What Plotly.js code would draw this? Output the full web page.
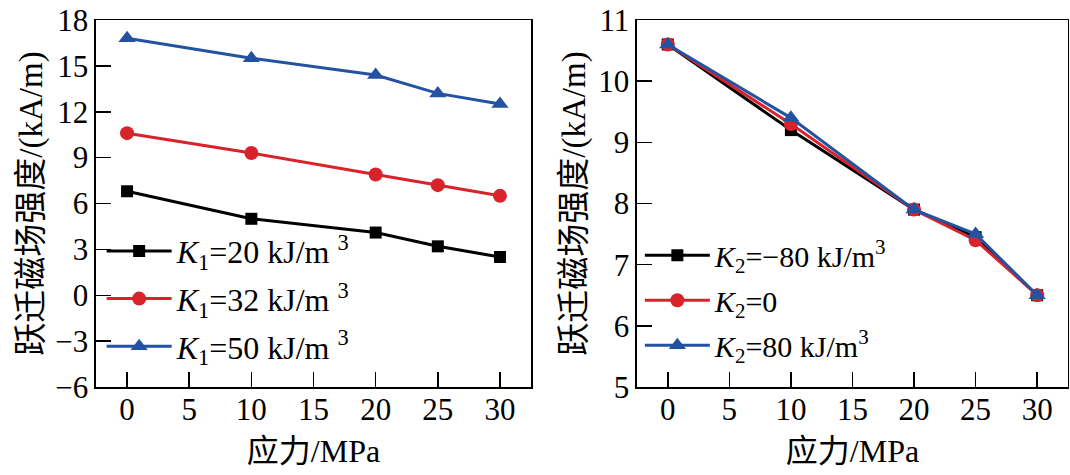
<!DOCTYPE html>
<html>
<head>
<meta charset="utf-8">
<script src="https://cdn.plot.ly/plotly-3.0.1.min.js"></script>
<style>html,body{margin:0;padding:0;background:#fff}#chart{width:1070px;height:475px}</style>
</head>
<body>
<div id="chart"></div>
<script>
const stress = [0, 10, 20, 25, 30];
const k1_20 = [6.8, 5.0, 4.1, 3.2, 2.5];
const k1_32 = [10.6, 9.3, 7.9, 7.2, 6.5];
const k1_50 = [16.8, 15.5, 14.4, 13.2, 12.5];
const k2_m80 = [10.6, 9.2, 7.9, 7.45, 6.5];
const k2_0 = [10.6, 9.3, 7.9, 7.4, 6.5];
const k2_80 = [10.6, 9.4, 7.9, 7.5, 6.5];
const leftNames = ['<i>K</i><sub>1</sub>=20 kJ/m <sup>3</sup>', '<i>K</i><sub>1</sub>=32 kJ/m <sup>3</sup>', '<i>K</i><sub>1</sub>=50 kJ/m <sup>3</sup>'];
const rightNames = ['<i>K</i><sub>2</sub>=\u221280 kJ/m<sup>3</sup>', '<i>K</i><sub>2</sub>=0', '<i>K</i><sub>2</sub>=80 kJ/m<sup>3</sup>'];
const xTicks = [0, 5, 10, 15, 20, 25, 30];

const BLACK = '#000000', RED = '#d8232b', BLUE = '#2352a3';
const FONT = 'Liberation Serif';
const TFONT = 'Liberation Serif, Noto Sans CJK SC';

function tr(y, name, color, symbol, size, xa, ya, leg, grp) {
  return {
    x: stress, y: y, name: name, type: 'scatter', mode: 'lines+markers',
    xaxis: xa, yaxis: ya, legend: leg, legendgroup: grp,
    line: {color: color, width: 3},
    marker: {color: color, symbol: symbol, size: size}
  };
}

const data = [
  tr(k1_20, leftNames[0], BLACK, 'square', 12, 'x', 'y', 'legend', 'a'),
  tr(k1_32, leftNames[1], RED, 'circle', 14, 'x', 'y', 'legend', 'b'),
  tr(k1_50, leftNames[2], BLUE, 'triangle-up', 15, 'x', 'y', 'legend', 'c'),
  tr(k2_m80, rightNames[0], BLACK, 'square', 12, 'x2', 'y2', 'legend2', 'd'),
  tr(k2_0, rightNames[1], RED, 'circle', 14, 'x2', 'y2', 'legend2', 'e'),
  tr(k2_80, rightNames[2], BLUE, 'triangle-up', 15, 'x2', 'y2', 'legend2', 'f')
];

function xax(domain, anchor) {
  return {
    domain: domain, anchor: anchor, range: [-2.5, 32.5], tickvals: xTicks,
    ticks: 'inside', ticklen: 15, tickwidth: 1.5, tickcolor: '#000',
    ticklabelstandoff: -6,
    showline: true, mirror: true, linecolor: '#000', linewidth: 1.5,
    showgrid: false, zeroline: false,
    tickfont: {family: FONT, size: 31, color: '#000'},
    title: {text: '应力/MPa', font: {family: TFONT, size: 32, color: '#000'}, standoff: 14}
  };
}
function yax(range, dtick, anchor) {
  return {
    anchor: anchor, range: range, dtick: dtick,
    ticks: 'inside', ticklen: 15, tickwidth: 1.5, tickcolor: '#000',
    showline: true, mirror: true, linecolor: '#000', linewidth: 1.5,
    showgrid: false, zeroline: false,
    tickfont: {family: FONT, size: 31, color: '#000'},
    title: {text: '跃迁磁场强度/(kA/m)', font: {family: TFONT, size: 33, color: '#000'}, standoff: 2}
  };
}

const legendBase = {
  bgcolor: 'rgba(0,0,0,0)', borderwidth: 0,
  xanchor: 'left', yanchor: 'top', itemwidth: 65, tracegroupgap: 3
};

const layout = {
  width: 1070, height: 475,
  margin: {l: 0, r: 0, t: 20, b: 88},
  paper_bgcolor: '#fff', plot_bgcolor: '#fff',
  font: {family: FONT, color: '#000'},
  showlegend: true,
  xaxis: xax([0.0897, 0.4963], 'y'),
  yaxis: yax([-6, 18], 3, 'x'),
  xaxis2: xax([0.5953, 0.9981], 'y2'),
  yaxis2: yax([5, 11], 1, 'x2'),
  legend: Object.assign({}, legendBase, {x: 0.095, y: 0.445, font: {family: FONT, size: 32, color: '#000'}}),
  legend2: Object.assign({}, legendBase, {x: 0.598, y: 0.43, font: {family: FONT, size: 30, color: '#000'}})
};

Plotly.newPlot('chart', data, layout, {displayModeBar: false, staticPlot: true});
</script>
</body>
</html>
